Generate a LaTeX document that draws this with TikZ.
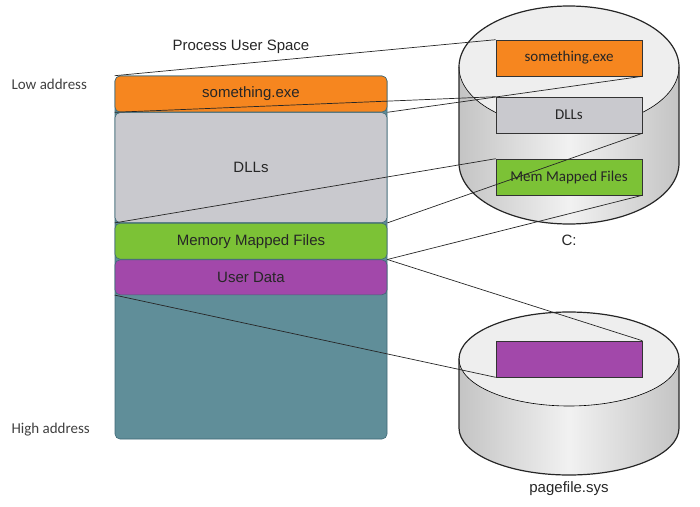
\documentclass[tikz,border=0pt]{standalone}
\usepackage{fontspec}
\setmainfont{Liberation Sans}
\newfontfamily\calib{Carlito}
\usetikzlibrary{positioning}
\definecolor{exeorange}{RGB}{246,134,31}
\definecolor{dllgray}{RGB}{201,201,206}
\definecolor{mapgreen}{RGB}{124,194,54}
\definecolor{datapurple}{RGB}{162,72,170}
\definecolor{heapteal}{RGB}{96,142,153}
\definecolor{segline}{RGB}{62,104,118}
\definecolor{diskside}{RGB}{196,196,196}
\definecolor{disktop}{RGB}{238,238,238}
\begin{document}
\begin{tikzpicture}[x=1pt, y=-1pt, node distance=0pt,
    every node/.append style={align=center, text=black!85, font=\fontsize{15}{18}\selectfont},
    seg/.style={draw=segline, line width=0.6pt, rounded corners=5pt, minimum width=272pt, inner sep=0pt},
    blk/.style={draw=black!80, line width=0.6pt, minimum width=146pt, minimum height=36pt, inner sep=0pt,
      font=\calib\fontsize{15}{18}\selectfont},
    lbl/.style={anchor=west, text=black!75, font=\calib\fontsize{15}{18}\selectfont},
    lnk/.style={line width=0.7pt, black!85},
    disk/.style={line width=1.2pt, black!85}]
   \useasboundingbox (0,0) rectangle (700,506);

   \shade[left color=diskside, right color=diskside, middle color=disktop!80]
     (459,163) -- (459,67) arc[start angle=180, end angle=0, x radius=110pt, y radius=61pt]
     -- (679,163) arc[start angle=0, end angle=-180, x radius=110pt, y radius=61pt] -- cycle;
   \fill[disktop] (569,67) ellipse [x radius=110pt, y radius=61pt];
   \draw[line width=0.6pt] (459,67) arc[start angle=180, end angle=360, x radius=110pt, y radius=61pt];
   \draw[disk] (459,163) -- (459,67) arc[start angle=180, end angle=0, x radius=110pt, y radius=61pt]
     -- (679,163) arc[start angle=0, end angle=-180, x radius=110pt, y radius=61pt] -- cycle;

   \shade[left color=diskside, right color=diskside, middle color=disktop!80]
     (459,428) -- (459,359) arc[start angle=180, end angle=0, x radius=110pt, y radius=47pt]
     -- (679,428) arc[start angle=0, end angle=-180, x radius=110pt, y radius=47pt] -- cycle;
   \fill[disktop] (569,359) ellipse [x radius=110pt, y radius=47pt];
   \draw[line width=0.6pt] (459,359) arc[start angle=180, end angle=360, x radius=110pt, y radius=47pt];
   \draw[disk] (459,428) -- (459,359) arc[start angle=180, end angle=0, x radius=110pt, y radius=47pt]
     -- (679,428) arc[start angle=0, end angle=-180, x radius=110pt, y radius=47pt] -- cycle;

   \node [blk, fill=exeorange] (exeC) at (569,58)  {something.exe};
   \node [blk, fill=dllgray]   (dllC) at (569,115) {DLLs};
   \node [blk, fill=mapgreen]  (mmfC) at (569,177) {Mem Mapped Files};
   \node [blk, fill=datapurple](udP)  at (569,359) {};
   \node (cdrv) at (569,240) {C:};
   \node (pgf)  at (569,489) {pagefile.sys};

   \node [seg, fill=heapteal, minimum height=363pt] (heap) at (251,257.5) {};
   \node [seg, fill=exeorange, minimum height=36pt] (exe) at (251,94) {something.exe};
   \node [seg, fill=dllgray, minimum height=110pt, below=of exe] (dll) {DLLs};
   \node [seg, fill=mapgreen, minimum height=36pt, below=of dll] (mmf) {Memory Mapped Files};
   \node [seg, fill=datapurple, minimum height=35pt, below=of mmf] (ud) {User Data};

   \node (pus) at (241,47) {Process User Space};
   \node [lbl] (low)  at (8,84)  {Low address};
   \node [lbl] (high) at (8,430) {High address};

   \path[lnk] (exe.north west) edge (exeC.north west)
   (exe.south east) edge (exeC.south east)
   (dll.north west) edge (dllC.north west)
   (dll.south east) edge (dllC.south east)
   (mmf.north west) edge (mmfC.north west)
   (mmf.south east) edge (mmfC.south east)
   (ud.north east) edge (udP.north east)
   (ud.south west) edge (udP.south west);
\end{tikzpicture}
\end{document}
